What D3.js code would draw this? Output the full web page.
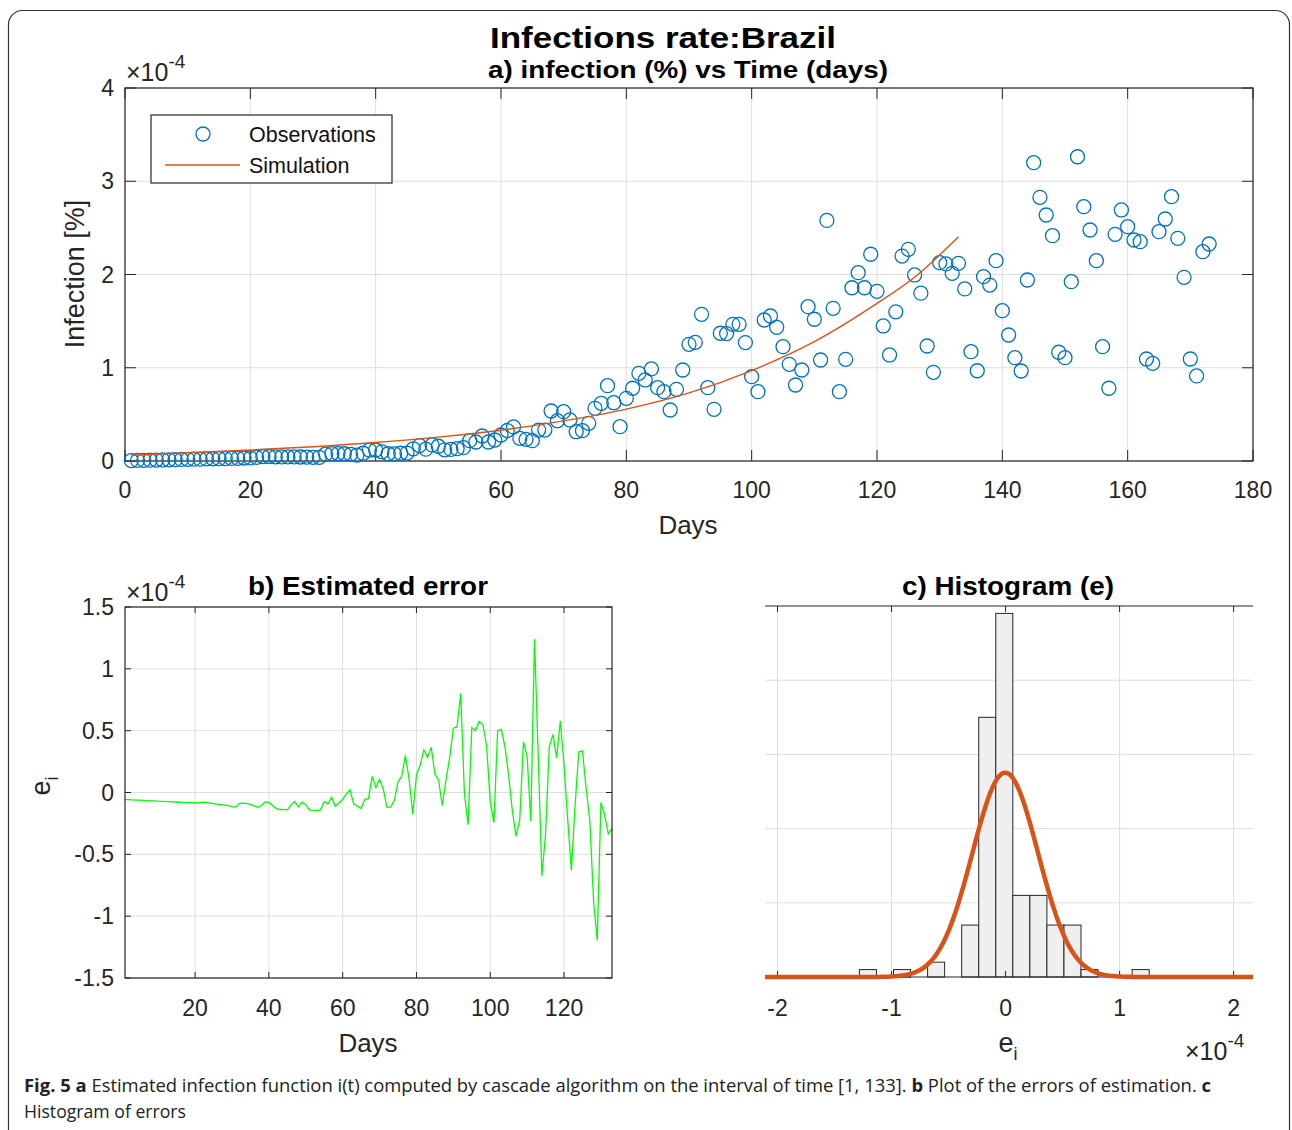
<!DOCTYPE html>
<html><head><meta charset="utf-8">
<script src="https://cdn.jsdelivr.net/npm/d3@7"></script>
<style>body{margin:0;background:#fff}svg{display:block}</style>
</head><body>
<svg id="c" width="1292" height="1130"></svg>
<script>
// ---------------- DATA (values in units of 1e-4) ----------------
// a) Observations, day 1 .. 173
const obsValues = [
 .005,.006,.007,.009,.010,.011,.013,.014,.017,.018,
 .020,.020,.022,.023,.025,.026,.028,.029,.032,.033,
 .039,.046,.048,.045,.044,.044,.044,.043,.042,.039,
 .039,.073,.079,.080,.078,.071,.063,.083,.117,.118,
 .098,.078,.076,.083,.085,.131,.165,.127,.172,.158,
 .120,.124,.132,.143,.218,.204,.268,.204,.225,.279,
 .327,.365,.243,.232,.218,.332,.332,.536,.432,.529,
 .440,.314,.325,.404,.565,.619,.808,.625,.368,.672,
 .780,.940,.869,.987,.786,.743,.547,.769,.976,1.251,
 1.273,1.573,.786,.554,1.370,1.366,1.466,1.466,1.270,.904,
 .743,1.512,1.555,1.434,1.226,1.037,.815,.976,1.655,1.520,
 1.083,2.580,1.637,.743,1.090,1.858,2.020,1.858,2.217,1.820,
 1.448,1.137,1.600,2.198,2.270,1.995,1.800,1.233,.951,2.127,
 2.113,2.013,2.120,1.845,1.172,.968,1.977,1.887,2.148,1.612,
 1.351,1.108,.965,1.941,3.199,2.828,2.638,2.416,1.166,1.108,
 1.923,3.263,2.727,2.477,2.148,1.226,.780,2.431,2.692,2.513,
 2.370,2.352,1.094,1.047,2.459,2.595,2.835,2.388,1.970,1.094,
 .912,2.245,2.327];
const obsDays = obsValues.map((v,i)=>i+1);

// a) Simulation curve, read at knots
const simDays   = [1,10,20,30,40,50,60,70,80,90,100,110,120,126,133];
const simValues = [.062,.088,.118,.153,.198,.256,.33,.43,.556,.73,.97,1.28,1.69,1.97,2.405];

// b) Estimated error, day 1 .. 133
const errValues = [
 -.057,-.058,-.060,-.061,-.062,-.064,-.065,-.067,-.068,-.070,
 -.071,-.073,-.074,-.076,-.077,-.079,-.080,-.082,-.083,-.085,
 -.082,-.078,-.080,-.086,-.090,-.094,-.098,-.102,-.107,-.114,
 -.118,-.088,-.086,-.090,-.096,-.108,-.120,-.105,-.076,-.080,
 -.105,-.130,-.138,-.136,-.140,-.100,-.072,-.116,-.078,-.098,
 -.143,-.145,-.144,-.140,-.073,-.094,-.038,-.110,-.085,-.055,
 -.012,.022,-.094,-.110,-.130,-.055,-.050,.130,.040,.105,
 .030,-.120,-.118,-.065,.085,.130,.300,.110,-.175,.140,
 .220,.345,.285,.365,.150,.100,-.105,.100,.280,.520,
 .530,.800,-.010,-.260,.525,.500,.575,.550,.380,-.070,
 -.245,.500,.510,.370,.130,-.150,-.355,-.220,.410,.290,
 -.230,1.240,.300,-.675,-.330,.370,.470,.280,.580,.220,
 -.220,-.630,-.100,.330,.335,.030,-.230,-.880,-1.195,-.080,
 -.180,-.335,-.290];
const errDays = errValues.map((v,i)=>i+1);

// c) Histogram of errors
const binStart = -1.282, binWidth = 0.1495;
const binCounts = [1,0,1,0,2,0,7,35,49,11,11,7,7,1,0,0,1];
const fitMean = -0.003, fitSigma = 0.288, fitN = 133;

// ticks
const aXTicks = [0,20,40,60,80,100,120,140,160,180];
const aYTicks = [0,1,2,3,4];
const bXTicks = [20,40,60,80,100,120];
const bYTicks = [-1.5,-1,-0.5,0,0.5,1,1.5];
const bYLabels = ["-1.5","-1","-0.5","0","0.5","1","1.5"];
const cXTicks = [-2,-1,0,1,2];
const cYGrid = [10,20,30,40];

// ---------------- DRAW ----------------
const F = "'Liberation Sans', Arial, Helvetica, sans-serif";
const AX = "#262626", GRID = "#dedede";
const svg = d3.select("#c");
svg.append("rect").attr("width",1292).attr("height",1130).attr("fill","#fff");
svg.append("rect").attr("x",8.5).attr("y",10.5).attr("width",1281).attr("height",1140)
  .attr("rx",14).attr("fill","none").attr("stroke","#333").attr("stroke-width",1.2);

function txt(x,y,s,size,opts={}){
  const t = svg.append("text").attr("x",x).attr("y",y).attr("font-family",opts.family||F)
    .attr("font-size",size).attr("fill",opts.fill||AX)
    .attr("text-anchor",opts.anchor||"middle").text(s);
  if(opts.bold) t.attr("font-weight","bold");
  if(opts.len) t.attr("textLength",opts.len).attr("lengthAdjust","spacingAndGlyphs");
  if(opts.rotate) t.attr("transform",`rotate(${opts.rotate},${x},${y})`);
  return t;
}
function expo(x,y){
  const t = svg.append("text").attr("x",x).attr("y",y).attr("font-family",F)
    .attr("font-size",25).attr("fill",AX).attr("text-anchor","start");
  t.append("tspan").text("\u00d710");
  t.append("tspan").attr("dy",-13).attr("font-size",19).text("-4");
}

// ===== a) =====
const xA = d3.scaleLinear([0,180],[125,1253]);
const yA = d3.scaleLinear([0,4],[461,88]);
const gA = svg.append("g");
aXTicks.forEach(v=>gA.append("line").attr("x1",xA(v)).attr("x2",xA(v)).attr("y1",88).attr("y2",461).attr("stroke",GRID));
aYTicks.forEach(v=>gA.append("line").attr("x1",125).attr("x2",1253).attr("y1",yA(v)).attr("y2",yA(v)).attr("stroke",GRID));
gA.append("rect").attr("x",125).attr("y",88).attr("width",1128).attr("height",373).attr("fill","none").attr("stroke",AX).attr("stroke-width",1.2);
aXTicks.forEach(v=>{
  gA.append("line").attr("x1",xA(v)).attr("x2",xA(v)).attr("y1",461).attr("y2",450).attr("stroke",AX);
  gA.append("line").attr("x1",xA(v)).attr("x2",xA(v)).attr("y1",88).attr("y2",99).attr("stroke",AX);
  txt(xA(v),498,String(v),23);
});
aYTicks.forEach(v=>{
  gA.append("line").attr("x1",125).attr("x2",136).attr("y1",yA(v)).attr("y2",yA(v)).attr("stroke",AX);
  gA.append("line").attr("x1",1253).attr("x2",1242).attr("y1",yA(v)).attr("y2",yA(v)).attr("stroke",AX);
  txt(114,yA(v)+8,String(v),23,{anchor:"end"});
});
gA.selectAll("circle.obs").data(obsValues).join("circle").attr("class","obs")
  .attr("cx",(d,i)=>xA(obsDays[i])).attr("cy",d=>yA(d)).attr("r",7)
  .attr("fill","none").attr("stroke","#0072BD").attr("stroke-width",1.3);
gA.append("path").attr("d",d3.line().x((d,i)=>xA(simDays[i])).y(d=>yA(d)).curve(d3.curveMonotoneX)(simValues))
  .attr("fill","none").attr("stroke","#D95319").attr("stroke-width",1.4);
// legend
gA.append("rect").attr("x",151).attr("y",115).attr("width",241).attr("height",68).attr("fill","#fff").attr("stroke",AX).attr("stroke-width",1.2);
gA.append("circle").attr("cx",203).attr("cy",134).attr("r",7).attr("fill","none").attr("stroke","#0072BD").attr("stroke-width",1.3);
gA.append("line").attr("x1",165).attr("x2",240).attr("y1",165).attr("y2",165).attr("stroke","#D95319").attr("stroke-width",1.4);
txt(249,142,"Observations",21.5,{anchor:"start",fill:"#111"});
txt(249,173,"Simulation",21.5,{anchor:"start",fill:"#111"});
txt(688,534,"Days",26);
txt(84,274,"Infection [%]",27,{rotate:-90});
expo(126,81);
txt(663,48,"Infections rate:Brazil",30,{bold:true,fill:"#000",len:346});
txt(688,78,"a) infection (%) vs Time (days)",24,{bold:true,fill:"#000",len:400});

// ===== b) =====
const xB = d3.scaleLinear([1,133],[125,612]);
const yB = d3.scaleLinear([-1.5,1.5],[978,607]);
const gB = svg.append("g");
bXTicks.forEach(v=>gB.append("line").attr("x1",xB(v)).attr("x2",xB(v)).attr("y1",607).attr("y2",978).attr("stroke",GRID));
bYTicks.forEach(v=>gB.append("line").attr("x1",125).attr("x2",612).attr("y1",yB(v)).attr("y2",yB(v)).attr("stroke",GRID));
gB.append("path").attr("d",d3.line().x((d,i)=>xB(errDays[i])).y(d=>yB(d))(errValues))
  .attr("fill","none").attr("stroke","#00FF00").attr("stroke-width",1.3);
gB.append("rect").attr("x",125).attr("y",607).attr("width",487).attr("height",371).attr("fill","none").attr("stroke",AX).attr("stroke-width",1.2);
bXTicks.forEach(v=>{
  gB.append("line").attr("x1",xB(v)).attr("x2",xB(v)).attr("y1",978).attr("y2",972).attr("stroke",AX);
  gB.append("line").attr("x1",xB(v)).attr("x2",xB(v)).attr("y1",607).attr("y2",613).attr("stroke",AX);
  txt(xB(v),1016,String(v),23);
});
bYTicks.forEach((v,i)=>{
  gB.append("line").attr("x1",125).attr("x2",131).attr("y1",yB(v)).attr("y2",yB(v)).attr("stroke",AX);
  gB.append("line").attr("x1",612).attr("x2",606).attr("y1",yB(v)).attr("y2",yB(v)).attr("stroke",AX);
  txt(114,yB(v)+8,bYLabels[i],23,{anchor:"end"});
});
txt(368,1052,"Days",26);
txt(368,595,"b) Estimated error",25,{bold:true,fill:"#000",len:240});
expo(126,601);
{
  const t = svg.append("text").attr("transform","translate(50,786) rotate(-90)")
    .attr("font-family",F).attr("font-size",27).attr("fill",AX).attr("text-anchor","middle");
  t.append("tspan").text("e");
  t.append("tspan").attr("dy",8).attr("font-size",18).text("i");
}

// ===== c) =====
const xC = d3.scaleLinear([-2.11,2.17],[765,1253]);
const yC = d3.scaleLinear([0,50],[977,606]);
const gC = svg.append("g");
cXTicks.forEach(v=>gC.append("line").attr("x1",xC(v)).attr("x2",xC(v)).attr("y1",606).attr("y2",977).attr("stroke",GRID));
cYGrid.forEach(v=>gC.append("line").attr("x1",765).attr("x2",1253).attr("y1",yC(v)).attr("y2",yC(v)).attr("stroke",GRID));
gC.selectAll("rect.bar").data(binCounts.map((c,i)=>({c,i})).filter(d=>d.c>0)).join("rect").attr("class","bar")
  .attr("x",d=>xC(binStart+d.i*binWidth)).attr("width",d=>xC(binStart+(d.i+1)*binWidth)-xC(binStart+d.i*binWidth))
  .attr("y",d=>yC(d.c)).attr("height",d=>yC(0)-yC(d.c))
  .attr("fill","#efefef").attr("stroke",AX).attr("stroke-width",1);
gC.append("line").attr("x1",765).attr("x2",1253).attr("y1",606).attr("y2",606).attr("stroke",AX).attr("stroke-width",1.2);
gC.append("line").attr("x1",765).attr("x2",1253).attr("y1",977).attr("y2",977).attr("stroke",AX).attr("stroke-width",1.2);
cXTicks.forEach(v=>{
  gC.append("line").attr("x1",xC(v)).attr("x2",xC(v)).attr("y1",606).attr("y2",612).attr("stroke",AX);
  gC.append("line").attr("x1",xC(v)).attr("x2",xC(v)).attr("y1",977).attr("y2",971).attr("stroke",AX);
  txt(xC(v),1016,String(v),23);
});
const fitX = d3.range(0,301).map(k=>-2.11+k*(4.28/300));
const pdf = x => fitN*binWidth/(fitSigma*Math.sqrt(2*Math.PI))*Math.exp(-0.5*((x-fitMean)/fitSigma)**2);
gC.append("path").attr("d",d3.line().x(d=>xC(d)).y(d=>yC(pdf(d)))(fitX))
  .attr("fill","none").attr("stroke","#D95319").attr("stroke-width",4.5);
txt(1008,595,"c) Histogram (e)",25,{bold:true,fill:"#000",len:212});
{
  const t = svg.append("text").attr("x",1008).attr("y",1052)
    .attr("font-family",F).attr("font-size",27).attr("fill",AX).attr("text-anchor","middle");
  t.append("tspan").text("e");
  t.append("tspan").attr("dy",8).attr("font-size",18).text("i");
}
expo(1185,1060);

// ===== caption =====
const CF = "'Open Sans', 'Noto Sans', sans-serif";
{
  const t = svg.append("text").attr("x",24).attr("y",1092).attr("font-family",CF).attr("font-size",18)
    .attr("fill","#222").attr("textLength",1187).attr("lengthAdjust","spacingAndGlyphs");
  t.append("tspan").attr("font-weight","bold").text("Fig. 5  a");
  t.append("tspan").text(" Estimated infection function i(t) computed by cascade algorithm on the interval of time [1, 133]. ");
  t.append("tspan").attr("font-weight","bold").text("b");
  t.append("tspan").text(" Plot of the errors of estimation. ");
  t.append("tspan").attr("font-weight","bold").text("c");
  svg.append("text").attr("x",24).attr("y",1118).attr("font-family",CF).attr("font-size",18)
    .attr("fill","#222").attr("textLength",162).attr("lengthAdjust","spacingAndGlyphs").text("Histogram of errors");
}
</script>
</body></html>
